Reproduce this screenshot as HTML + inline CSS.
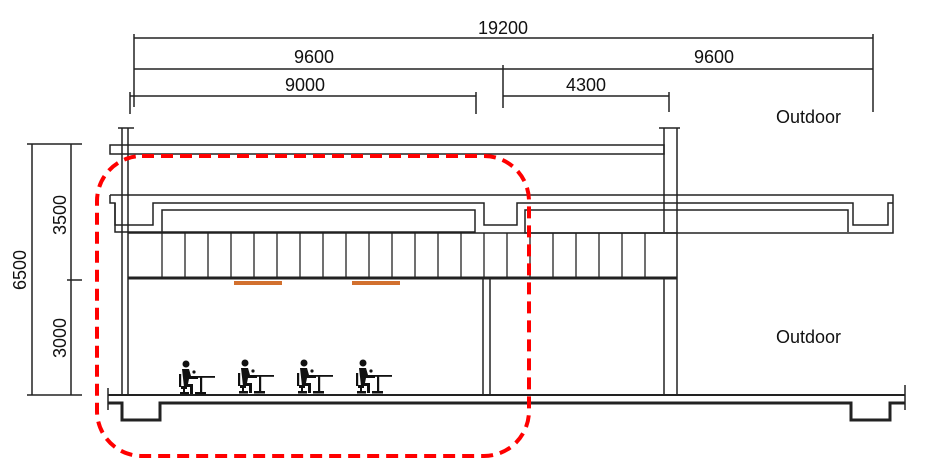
<!DOCTYPE html>
<html><head><style>body{margin:0;background:#fff}svg{display:block}text{font-family:"Liberation Sans",sans-serif;font-size:18px;fill:#111}</style></head><body>
<svg width="951" height="468" viewBox="0 0 951 468" xmlns="http://www.w3.org/2000/svg">
<g stroke="#222" stroke-width="1.5" fill="none">
<line x1="134" y1="38" x2="873" y2="38"/>
<line x1="134" y1="69" x2="873" y2="69"/>
<line x1="130" y1="96" x2="476" y2="96"/>
<line x1="503" y1="96" x2="669" y2="96"/>
<line x1="134" y1="34" x2="134" y2="107"/>
<line x1="130" y1="92" x2="130" y2="114"/>
<line x1="476" y1="92" x2="476" y2="114"/>
<line x1="503" y1="65" x2="503" y2="108"/>
<line x1="669" y1="92" x2="669" y2="112"/>
<line x1="873" y1="34" x2="873" y2="112"/>
<line x1="32" y1="144" x2="32" y2="395"/>
<line x1="71" y1="144" x2="71" y2="395"/>
<line x1="27" y1="144" x2="82" y2="144"/>
<line x1="27" y1="395" x2="82" y2="395"/>
<line x1="67" y1="280" x2="82" y2="280"/>
<rect x="110" y="145" width="554" height="9"/>
<line x1="118" y1="128" x2="134" y2="128"/>
<line x1="122" y1="128" x2="122" y2="395"/>
<line x1="128" y1="128" x2="128" y2="395"/>
<line x1="659" y1="128" x2="680" y2="128"/>
<line x1="664" y1="128" x2="664" y2="232"/>
<line x1="677" y1="128" x2="677" y2="395"/>
<line x1="664" y1="278" x2="664" y2="395"/>
<path d="M110 195 H893 V233 H525 V210 H848 V232"/>
<path d="M110 195 V203 H115 V232 H475 V210 H162 V232"/>
<path d="M115 203 V225 H153 V203 H484 V225 H517 V203 H853 V225 H888 V203 H893"/>
<line x1="128" y1="233" x2="677" y2="233"/>
<g stroke-width="1.3">
<line x1="162" y1="233" x2="162" y2="278"/><line x1="185" y1="233" x2="185" y2="278"/><line x1="208" y1="233" x2="208" y2="278"/><line x1="231" y1="233" x2="231" y2="278"/><line x1="254" y1="233" x2="254" y2="278"/><line x1="277" y1="233" x2="277" y2="278"/><line x1="300" y1="233" x2="300" y2="278"/><line x1="323" y1="233" x2="323" y2="278"/><line x1="346" y1="233" x2="346" y2="278"/><line x1="369" y1="233" x2="369" y2="278"/><line x1="392" y1="233" x2="392" y2="278"/><line x1="415" y1="233" x2="415" y2="278"/><line x1="438" y1="233" x2="438" y2="278"/><line x1="461" y1="233" x2="461" y2="278"/><line x1="484" y1="233" x2="484" y2="278"/><line x1="507" y1="233" x2="507" y2="278"/><line x1="530" y1="233" x2="530" y2="278"/><line x1="553" y1="233" x2="553" y2="278"/><line x1="576" y1="233" x2="576" y2="278"/><line x1="599" y1="233" x2="599" y2="278"/><line x1="622" y1="233" x2="622" y2="278"/><line x1="645" y1="233" x2="645" y2="278"/>
</g>
<line x1="128" y1="278" x2="677" y2="278" stroke-width="3"/>
<line x1="483" y1="278" x2="483" y2="395"/>
<line x1="490" y1="278" x2="490" y2="395"/>
<line x1="108" y1="395" x2="905" y2="395" stroke-width="2"/>
<path d="M108 403 H122 V420 H160 V403 H851 V420 H890 V403 H905" stroke-width="3"/>
<line x1="108" y1="388" x2="108" y2="410"/>
<line x1="905" y1="385" x2="905" y2="410"/>
</g>
<rect x="234" y="281" width="48" height="4" fill="#d2702e"/>
<rect x="352" y="281" width="48" height="4" fill="#d2702e"/>
<defs><g id="p" fill="#111">
<circle cx="7" cy="4" r="3.5"/>
<path d="M3 9 H10 L12 16 H19 V19 H10 L9 24 H14 V34 H11 V27 H5 Z"/>
<rect x="0" y="14" width="2.2" height="13"/>
<rect x="2" y="26" width="6" height="3"/>
<rect x="4" y="29" width="2" height="4"/>
<rect x="1" y="32" width="9" height="2.5"/>
<rect x="12" y="16" width="24" height="1.8"/>
<rect x="21" y="16" width="2.2" height="18"/>
<rect x="16" y="32" width="11" height="2.5"/>
<circle cx="15" cy="12" r="1.6"/>
</g></defs>
<use href="#p" x="179" y="360"/>
<use href="#p" x="238" y="359"/>
<use href="#p" x="297" y="359"/>
<use href="#p" x="356" y="359"/>
<text x="503" y="34" text-anchor="middle">19200</text>
<text x="314" y="63" text-anchor="middle">9600</text>
<text x="714" y="63" text-anchor="middle">9600</text>
<text x="305" y="91" text-anchor="middle">9000</text>
<text x="586" y="91" text-anchor="middle">4300</text>
<text x="776" y="123">Outdoor</text>
<text x="776" y="343">Outdoor</text>
<text transform="translate(26,270) rotate(-90)" text-anchor="middle">6500</text>
<text transform="translate(66,215) rotate(-90)" text-anchor="middle">3500</text>
<text transform="translate(66,338) rotate(-90)" text-anchor="middle">3000</text>
<rect x="97" y="156" width="432" height="300" rx="45" fill="none" stroke="#f00" stroke-width="4" stroke-dasharray="12 7"/>
</svg>
</body></html>
